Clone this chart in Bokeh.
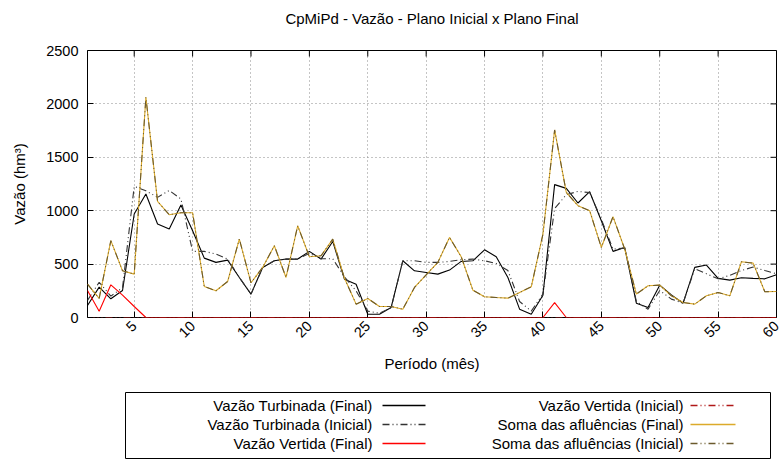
import math
from bokeh.plotting import figure
from bokeh.models import FixedTicker, Range1d
from bokeh.layouts import column
from bokeh.core.properties import value
from bokeh.embed import file_html
from bokeh.resources import INLINE

# ---------------- data ----------------
periodo = list(range(1, 61))

turbinada_final = [112, 284, 175, 253, 969, 1156, 875, 828, 1053, 812,
                   556, 516, 537, 375, 219, 469, 531, 547, 547, 619,
                   547, 712, 359, 312, 31, 31, 94, 531, 437, 422,
                   406, 444, 525, 531, 634, 569, 375, 78, 31, 209,
                   1244, 1209, 1072, 1178, 906, 619, 656, 134, 94, 303,
                   212, 134, 469, 491, 366, 350, 372, 366, 362, 400]

turbinada_inicial = [160, 330, 200, 280, 1228, 1187, 1125, 1190, 1110, 619,
                     619, 594, 547, 375, 219, 469, 531, 547, 547, 600,
                     550, 550, 380, 250, 60, 40, 90, 531, 531, 516,
                     516, 525, 541, 547, 531, 506, 440, 150, 60, 220,
                     1020, 1150, 1180, 1170, 920, 640, 650, 150, 78, 253,
                     172, 134, 456, 409, 362, 395, 440, 472, 440, 409]

vertida_final = [253, 59, 306, 210, 103, 0, 0, 0, 0, 0,
                 0, 0, 0, 0, 0, 0, 0, 0, 0, 0,
                 0, 0, 0, 0, 0, 0, 0, 0, 0, 0,
                 0, 0, 0, 0, 0, 0, 0, 0, 0, 0,
                 140, 0, 0, 0, 0, 0, 0, 0, 0, 0,
                 0, 0, 0, 0, 0, 0, 0, 0, 0, 0]

vertida_inicial = [0, 0, 0, 0, 0, 0, 0, 0, 0, 0,
                   0, 0, 0, 0, 0, 0, 0, 0, 0, 0,
                   0, 0, 0, 0, 0, 0, 0, 0, 0, 0,
                   0, 0, 0, 0, 0, 0, 0, 0, 0, 0,
                   0, 0, 0, 0, 0, 0, 0, 0, 0, 0,
                   0, 0, 0, 0, 0, 0, 0, 0, 0, 0]

afluencias_final = [312, 180, 720, 437, 406, 2062, 1087, 962, 981, 981,
                    290, 250, 337, 734, 325, 469, 672, 375, 859, 569,
                    578, 734, 369, 125, 178, 103, 103, 78, 281, 400,
                    516, 750, 569, 256, 194, 187, 181, 234, 287, 780,
                    1756, 1172, 1047, 1000, 656, 944, 641, 219, 297, 303,
                    203, 141, 125, 203, 234, 203, 522, 509, 241, 244]

afluencias_inicial = [312, 180, 720, 437, 406, 2062, 1087, 962, 981, 981,
                      290, 250, 337, 734, 325, 469, 672, 375, 859, 569,
                      578, 734, 369, 125, 178, 103, 103, 78, 281, 400,
                      516, 750, 569, 256, 194, 187, 181, 234, 287, 780,
                      1756, 1172, 1047, 1000, 656, 944, 641, 219, 297, 303,
                      203, 141, 125, 203, 234, 203, 522, 509, 241, 244]

x_ticks = [5, 10, 15, 20, 25, 30, 35, 40, 45, 50, 55, 60]
y_ticks = [0, 500, 1000, 1500, 2000, 2500]

title_text = "CpMiPd - Vazão - Plano Inicial x Plano Final"
series_names = ["Vazão Turbinada (Final)", "Vazão Turbinada (Inicial)", "Vazão Vertida (Final)",
                "Vazão Vertida (Inicial)", "Soma das afluências (Final)", "Soma das afluências (Inicial)"]

# ---------------- styles ----------------
FONT = "Liberation Sans"
FS = "15px"
TICK_FS = "14.5px"
DASHDOT = "7 3 1 3 1 3"
styles = [
    dict(color="#000000", dash="solid"),
    dict(color="#333333", dash=DASHDOT),
    dict(color="#ff0000", dash="solid"),
    dict(color="#b01818", dash=DASHDOT),
    dict(color="#dcaa2a", dash="solid"),
    dict(color="#6b5a2c", dash=DASHDOT),
]
series = [turbinada_final, turbinada_inicial, vertida_final,
          vertida_inicial, afluencias_final, afluencias_inicial]

X0, X1 = 1, 60
Y0, Y1 = 0, 2500
W = 783
ML, MR = 87, 7
TH = 30                       # header (title) height
MT, MB = 20, 68               # main plot borders
H = 355                       # main plot height (frame top at TH+MT = 50)
LH = 78                       # legend panel height
frame_w = W - ML - MR
frame_h = H - MT - MB

# ---------------- title panel ----------------
head = figure(width=W, height=TH, x_range=Range1d(ML, W - MR), y_range=Range1d(TH, 0),
              output_backend="svg", toolbar_location=None,
              min_border_left=ML, min_border_right=MR, min_border_top=0, min_border_bottom=0,
              x_axis_type=None, y_axis_type=None, outline_line_color=None)
head.grid.visible = False
head.text(x=[(ML + W - MR) / 2], y=[18], text=[title_text], text_align="center",
          text_baseline="middle", text_font=value(FONT), text_font_size=FS,
          text_color="black")

# ---------------- main plot ----------------
p = figure(width=W, height=H, x_range=Range1d(X0, X1), y_range=Range1d(Y0, Y1),
           output_backend="svg", toolbar_location=None,
           min_border_left=ML, min_border_right=MR, min_border_top=MT, min_border_bottom=MB)

p.outline_line_color = "black"
p.outline_line_width = 1
p.outline_line_alpha = 1

p.xaxis.ticker = FixedTicker(ticks=x_ticks)
p.yaxis.ticker = FixedTicker(ticks=y_ticks)

for ax in p.axis:
    ax.axis_line_color = None
    ax.major_tick_in = 6
    ax.major_tick_out = 0
    ax.minor_tick_line_color = None
    ax.major_tick_line_color = "black"
    ax.major_label_text_font = FONT
    ax.major_label_text_font_size = TICK_FS
    ax.major_label_text_color = "black"
    ax.axis_label_text_font = FONT
    ax.axis_label_text_font_size = FS
    ax.axis_label_text_font_style = "normal"
    ax.axis_label_text_color = "black"

p.xaxis.axis_label = "Período (mês)"
p.yaxis.axis_label = "Vazão (hm³)"
p.xaxis.major_label_orientation = math.pi / 4
p.xaxis.major_label_standoff = 6
p.xaxis.axis_label_standoff = 10
p.yaxis.major_label_standoff = 9
p.yaxis.axis_label_standoff = 15

for g in p.grid:
    g.grid_line_color = "#8a8a8a"
    g.grid_line_dash = "1 3"
    g.grid_line_width = 1

# mirrored tick marks on top and right edges (6 px long, converted to data units)
tick_dy = 6 * (Y1 - Y0) / frame_h
tick_dx = 6 * (X1 - X0) / frame_w
p.segment(x0=x_ticks, y0=[Y1] * len(x_ticks), x1=x_ticks, y1=[Y1 - tick_dy] * len(x_ticks),
          line_color="black", line_width=1)
p.segment(x0=[X1] * len(y_ticks), y0=y_ticks, x1=[X1 - tick_dx] * len(y_ticks), y1=y_ticks,
          line_color="black", line_width=1)

for ys, st in zip(series, styles):
    p.line(periodo, ys, line_color=st["color"], line_dash=st["dash"], line_width=1.1)

# ---------------- legend panel (coordinates = page pixels) ----------------
top = TH + H
leg = figure(width=W, height=LH, x_range=Range1d(ML, W - MR), y_range=Range1d(top + LH, top),
             output_backend="svg", toolbar_location=None,
             min_border_left=ML, min_border_right=MR, min_border_top=0, min_border_bottom=0,
             x_axis_type=None, y_axis_type=None, outline_line_color=None)
leg.grid.visible = False
leg.quad(left=[125], right=[770], top=[392], bottom=[458], fill_color=None,
         line_color="black", line_width=1)

col_text_x = [372, 683]
col_line_x = [(382, 425), (690, 735)]
row_y = [405, 424, 443]
for i, name in enumerate(series_names):
    c, r = divmod(i, 3)
    leg.text(x=[col_text_x[c]], y=[row_y[r]], text=[name], text_align="right",
             text_baseline="middle", text_font=value(FONT), text_font_size=FS,
             text_color="black")
    x0, x1 = col_line_x[c]
    leg.line([x0, x1], [row_y[r], row_y[r]], line_color=styles[i]["color"],
             line_dash=styles[i]["dash"], line_width=1.3)

layout = column(head, p, leg, spacing=0)
open("out.html", "w").write(file_html(layout, INLINE))
